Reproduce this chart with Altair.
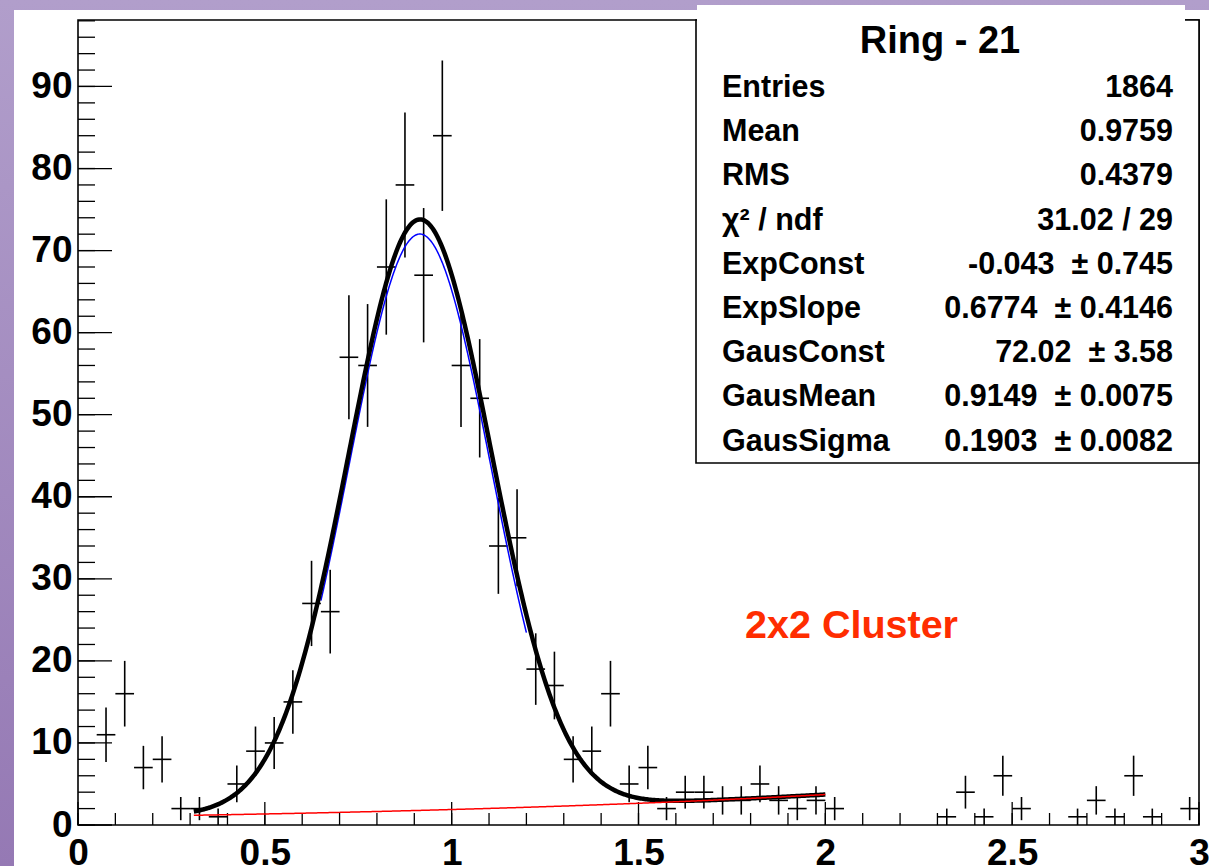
import altair as alt
import numpy as np
import pandas as pd

# ---- histogram contents (bin width 0.05, empty bins omitted) ----
bin_centers = [0.075, 0.125, 0.175, 0.225, 0.275, 0.325, 0.375, 0.425, 0.475, 0.525,
               0.575, 0.625, 0.675, 0.725, 0.775, 0.825, 0.875, 0.925, 0.975, 1.025,
               1.075, 1.125, 1.175, 1.225, 1.275, 1.325, 1.375, 1.425, 1.475, 1.525,
               1.575, 1.625, 1.675, 1.725, 1.775, 1.825, 1.875, 1.925, 1.975, 2.025,
               2.325, 2.375, 2.425, 2.475, 2.525, 2.675, 2.725, 2.775, 2.825, 2.875,
               2.975]
counts = [11, 16, 7, 8, 2, 2, 1, 5, 9, 10,
          15, 27, 26, 57, 56, 68, 78, 67, 84, 56,
          52, 34, 35, 19, 17, 8, 9, 16, 5, 7,
          2, 4, 4, 3, 3, 5, 3, 2, 3, 2,
          1, 4, 1, 6, 2, 1, 3, 1, 6, 1,
          2]
bin_half_width = 0.025

# ---- fit parameters (exponential background + gaussian) ----
exp_const = -0.043
exp_slope = 0.6774
gaus_const = 72.02
gaus_mean = 0.9149
gaus_sigma = 0.1903
fit_range = (0.31, 2.0)
gaus_range = (0.65, 1.2)

# ---- statistics box ----
stats_title = "Ring - 21"
stat_names = ["Entries", "Mean", "RMS", "χ² / ndf", "ExpConst", "ExpSlope",
              "GausConst", "GausMean", "GausSigma"]
NB = "\u00a0"
stat_values = ["1864", "0.9759", "0.4379", "31.02 / 29",
               f"-0.043{NB}{NB}±{NB}0.745",
               f"0.6774{NB}{NB}±{NB}0.4146",
               f"72.02{NB}{NB}±{NB}3.58",
               f"0.9149{NB}{NB}±{NB}0.0075",
               f"0.1903{NB}{NB}±{NB}0.0082"]
annotation = "2x2 Cluster"

# ---- axis ticks ----
x_major = [0, 0.5, 1, 1.5, 2, 2.5, 3]
x_minor = [round(0.1 * k, 1) for k in range(31)]
y_major = [0, 10, 20, 30, 40, 50, 60, 70, 80, 90]
y_minor = list(range(0, 99, 2))

# ---- layout ----
W, H = 1121, 805
PAD_L, PAD_T, PAD_R, PAD_B = 78, 20, 10, 41
FONT = "Liberation Sans"

xscale = alt.Scale(domain=[0, 3], nice=False, zero=False)
yscale = alt.Scale(domain=[0, 98.1], nice=False, zero=False)

one = pd.DataFrame({"k": [0]})

# page background and white canvas
bg = alt.Chart(one).mark_rect(
    fill=alt.Gradient(gradient="linear", x1=0, x2=0, y1=0, y2=1,
                      stops=[alt.GradientStop(color="#b19ecb", offset=0),
                             alt.GradientStop(color="#9579b4", offset=1)]),
    clip=False,
).encode(x=alt.value(-PAD_L), x2=alt.value(W + PAD_R),
         y=alt.value(-PAD_T), y2=alt.value(H + PAD_B))

canvas = alt.Chart(one).mark_rect(fill="white", clip=False).encode(
    x=alt.value(14 - PAD_L), x2=alt.value(W + PAD_R),
    y=alt.value(10 - PAD_T), y2=alt.value(H + PAD_B))

frame = alt.Chart(one).mark_rect(fill="white", fillOpacity=0, stroke="black",
                                 strokeWidth=1.6).encode(
    x=alt.value(0), x2=alt.value(W), y=alt.value(0), y2=alt.value(H))

# inward ticks
xt_major = alt.Chart(pd.DataFrame({"x": x_major})).mark_rule(
    color="black", strokeWidth=1.3).encode(
    x=alt.X("x:Q", scale=xscale), y=alt.value(H), y2=alt.value(H - 23))
xt_minor = alt.Chart(pd.DataFrame({"x": x_minor})).mark_rule(
    color="black", strokeWidth=1.3).encode(
    x=alt.X("x:Q", scale=xscale), y=alt.value(H), y2=alt.value(H - 12))
yt_major = alt.Chart(pd.DataFrame({"y": y_major})).mark_rule(
    color="black", strokeWidth=1.3).encode(
    y=alt.Y("y:Q", scale=yscale), x=alt.value(0), x2=alt.value(34))
yt_minor = alt.Chart(pd.DataFrame({"y": y_minor})).mark_rule(
    color="black", strokeWidth=1.3).encode(
    y=alt.Y("y:Q", scale=yscale), x=alt.value(0), x2=alt.value(17))

# histogram points with Poisson errors
hist = pd.DataFrame({"x": bin_centers, "n": counts})
hist["lo"] = hist["n"] - np.sqrt(hist["n"])
hist["hi"] = hist["n"] + np.sqrt(hist["n"])
hist["xl"] = hist["x"] - bin_half_width
hist["xr"] = hist["x"] + bin_half_width

x_axis = alt.Axis(values=x_major, format="~g", ticks=False, domain=False, grid=False,
                  labelFont=FONT, labelFontSize=37, labelFontWeight="bold",
                  labelColor="black", labelPadding=10, labelFlush=False,
                  labelOverlap=False, labelBound=False, title=None, zindex=1)
y_axis = alt.Axis(values=y_major, format="d", ticks=False, domain=False, grid=False,
                  labelFont=FONT, labelFontSize=37, labelFontWeight="bold",
                  labelColor="black", labelPadding=6, labelFlush=False,
                  labelOverlap=False, labelBound=False, title=None, zindex=1)

vbars = alt.Chart(hist).mark_rule(color="black", strokeWidth=1.6).encode(
    x=alt.X("x:Q", scale=xscale, axis=x_axis),
    y=alt.Y("lo:Q", scale=yscale, axis=y_axis),
    y2="hi:Q")
hbars = alt.Chart(hist).mark_rule(color="black", strokeWidth=1.6).encode(
    x=alt.X("xl:Q", scale=xscale), x2="xr:Q",
    y=alt.Y("n:Q", scale=yscale))

# fitted functions evaluated from the fit parameters
def background(x):
    return np.exp(exp_const + exp_slope * x)

def gaussian(x):
    return gaus_const * np.exp(-0.5 * ((x - gaus_mean) / gaus_sigma) ** 2)

xf = np.linspace(fit_range[0], fit_range[1], 500)
xg = np.linspace(gaus_range[0], gaus_range[1], 300)
total_df = pd.DataFrame({"x": xf, "y": background(xf) + gaussian(xf)})
bkg_df = pd.DataFrame({"x": xf, "y": background(xf)})
gaus_df = pd.DataFrame({"x": xg, "y": gaussian(xg)})

gaus_line = alt.Chart(gaus_df).mark_line(color="#0000ff", strokeWidth=1.5).encode(
    x=alt.X("x:Q", scale=xscale), y=alt.Y("y:Q", scale=yscale), order="x:Q")
total_line = alt.Chart(total_df).mark_line(color="black", strokeWidth=4.5).encode(
    x=alt.X("x:Q", scale=xscale), y=alt.Y("y:Q", scale=yscale), order="x:Q")
bkg_line = alt.Chart(bkg_df).mark_line(color="#ff0000", strokeWidth=1.5).encode(
    x=alt.X("x:Q", scale=xscale), y=alt.Y("y:Q", scale=yscale), order="x:Q")

# statistics box
box_l, box_b = 696 - PAD_L, 463 - PAD_T
stats_box = alt.Chart(one).mark_rect(fill="white", stroke="black", strokeWidth=1.6).encode(
    x=alt.value(box_l), x2=alt.value(W), y=alt.value(0), y2=alt.value(box_b))
stats_top = alt.Chart(one).mark_rect(fill="white", clip=False).encode(
    x=alt.value(box_l + 1), x2=alt.value(1185 - PAD_L),
    y=alt.value(5 - PAD_T), y2=alt.value(1))

texts = [alt.Chart(one).mark_text(text=stats_title, font=FONT, fontSize=38,
                                  fontWeight="bold", align="center",
                                  baseline="alphabetic", color="black").encode(
    x=alt.value(940 - PAD_L), y=alt.value(53 - PAD_T))]
for i, (name, val) in enumerate(zip(stat_names, stat_values)):
    yb = 97 - PAD_T + i * 44.2
    texts.append(alt.Chart(one).mark_text(text=name, font=FONT, fontSize=30.5,
                                          fontWeight="bold", align="left",
                                          baseline="alphabetic", color="black").encode(
        x=alt.value(722 - PAD_L), y=alt.value(yb)))
    texts.append(alt.Chart(one).mark_text(text=val, font=FONT, fontSize=30.5,
                                          fontWeight="bold", align="right",
                                          baseline="alphabetic", color="black").encode(
        x=alt.value(1173 - PAD_L), y=alt.value(yb)))

label = alt.Chart(one).mark_text(text=annotation, font=FONT, fontSize=39.5,
                                 fontWeight="bold", align="left",
                                 baseline="alphabetic", color="#ff2d00").encode(
    x=alt.value(745 - PAD_L), y=alt.value(638 - PAD_T))

chart = alt.layer(
    bg, canvas, frame, xt_major, xt_minor, yt_major, yt_minor,
    vbars, hbars, gaus_line, total_line, bkg_line,
    stats_box, stats_top, *texts, label,
).properties(
    width=W, height=H,
    autosize=alt.AutoSizeParams(type="none"),
    padding={"left": PAD_L, "top": PAD_T, "right": PAD_R, "bottom": PAD_B},
    background="#a58ec2",
).configure_view(strokeWidth=0)

chart.save("out.html", embed_options={"renderer": "svg", "actions": False})
